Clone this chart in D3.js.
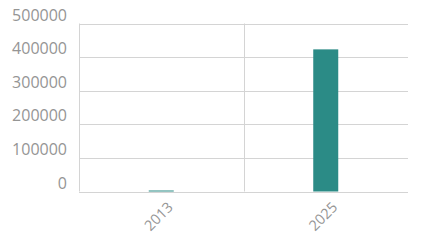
<!DOCTYPE html>
<html><head><meta charset="utf-8">
<script src="https://cdn.jsdelivr.net/npm/d3@7"></script>
<style>body{margin:0;background:#fff}svg{display:block}</style>
</head><body>
<svg id="c" width="423" height="246"></svg>
<script>
const categories = ["2013", "2025"];
const values = [3000, 423000];
const yTicks = [0, 100000, 200000, 300000, 400000, 500000];

const svg = d3.select("#c");
const m = {l: 79, r: 15, t: 23.5, b: 54.5};
const W = 423, H = 246;
const x = d3.scaleBand().domain(categories).range([m.l, W - m.r]);
const y = d3.scaleLinear().domain([0, 500000]).range([H - m.b, m.t]);
const grid = "#d4d4d4", txt = "#959595", font = "'Open Sans', sans-serif";

const g = svg.append("g");
g.selectAll("line.h").data(yTicks).join("line")
  .attr("x1", m.l).attr("x2", W - m.r)
  .attr("y1", d => Math.round(y(d)) + 0.5).attr("y2", d => Math.round(y(d)) + 0.5)
  .attr("stroke", grid).attr("stroke-width", 1);
g.selectAll("line.v").data(categories).join("line")
  .attr("x1", d => Math.round(x(d)) + 0.5).attr("x2", d => Math.round(x(d)) + 0.5)
  .attr("y1", y(500000)).attr("y2", y(0))
  .attr("stroke", grid).attr("stroke-width", 1);

g.selectAll("text.y").data(yTicks).join("text")
  .attr("x", 67).attr("y", d => y(d) - 3)
  .attr("text-anchor", "end").attr("fill", txt)
  .style("font-family", font).style("font-size", "16px")
  .text(d => d);

const bw = 25;
g.selectAll("rect").data(categories).join("rect")
  .attr("x", d => x(d) + x.bandwidth() / 2 - bw / 2)
  .attr("width", bw)
  .attr("y", (d, i) => y(values[i]))
  .attr("height", (d, i) => y(0) - y(values[i]))
  .attr("fill", "#2b8b86");

g.selectAll("text.x").data(categories).join("text")
  .attr("transform", d => `translate(${x(d) + x.bandwidth() / 2 + 5},${y(0) + 9}) rotate(-45)`)
  .attr("text-anchor", "end").attr("dy", "0.75em").attr("fill", txt)
  .style("font-family", font).style("font-size", "14.5px")
  .text(d => d);
</script>
</body></html>
